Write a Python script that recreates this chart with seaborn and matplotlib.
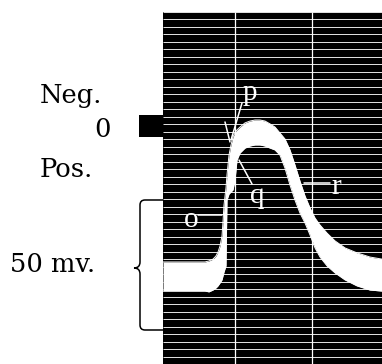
import numpy as np
import matplotlib
matplotlib.use("Agg")
import matplotlib.pyplot as plt
from matplotlib.path import Path
from matplotlib.patches import PathPatch
import seaborn as sns
import pandas as pd

# ---- data (time in ms, potential in mV; positive = downward "Pos.") ----
time_ms = [-0.935, -0.390, -0.338, -0.286, -0.247, -0.221, -0.195, -0.169, -0.156, -0.143,
           -0.117, -0.104, -0.078, -0.052, -0.026, 0.0, 0.026, 0.065, 0.130, 0.195,
           0.260, 0.325, 0.390, 0.455, 0.519, 0.584, 0.649, 0.714, 0.779, 0.844,
           0.909, 0.974, 1.039, 1.104, 1.195, 1.299, 1.429, 1.584, 1.753, 1.909]
trace_top_mv = [52.3, 52.3, 51.9, 51.2, 50.0, 48.5, 46.2, 42.3, 36.9, 30.4,
                23.8, 18.8, 11.2, 7.3, 4.2, 2.7, 1.5, 0.4, -1.2, -1.9,
                -2.3, -2.3, -1.9, -0.8, 0.4, 2.7, 5.0, 9.2, 15.0, 21.2,
                26.9, 31.5, 35.4, 38.1, 41.2, 44.2, 46.9, 48.8, 50.4, 51.2]
trace_bottom_mv = [63.5, 63.5, 63.8, 63.1, 62.3, 61.5, 60.4, 59.2, 57.7, 56.2,
                   53.8, 28.5, 26.2, 25.4, 24.6, 20.8, 13.1, 10.4, 8.5, 7.7,
                   7.3, 7.3, 7.7, 8.5, 9.2, 11.2, 16.2, 22.7, 28.5, 33.5,
                   37.3, 41.9, 46.9, 50.4, 53.8, 56.5, 59.2, 61.5, 63.1, 63.5]
time_marks_ms = [0, 1]
scale_mv = 50
labels_left = ["Neg.", "0", "Pos.", "50 mv."]
point_labels = ["o", "p", "q", "r"]

df = pd.DataFrame({"t": time_ms, "top": trace_top_mv, "bottom": trace_bottom_mv})

sns.set_theme(style="white")
plt.rcParams["font.family"] = ["DejaVu Serif", "DejaVu Sans"]

fig = plt.figure(figsize=(3.82, 3.64), dpi=100)
ax = fig.add_axes([0, 0, 1, 1])
fig.patch.set_facecolor("white")

x0, x1 = time_ms[0], time_ms[-1]
ytop, ybot = -43.85, 91.54

# black recording panel
ax.fill_between([x0, x1], ytop, ybot, color="black", lw=0, zorder=1)

# horizontal scan lines
for v in np.arange(-43.96, 91.6, 2.885):
    ax.hlines(v, x0, x1, color="#e6e6e6", lw=0.7, zorder=2)
# time marks
ax.vlines(time_marks_ms, ytop, ybot, color="white", lw=0.9, zorder=2)

# trace band
ax.fill_between(df["t"], df["top"], df["bottom"], color="white", lw=0, zorder=3)
sns.lineplot(data=df, x="t", y="top", color="white", lw=0.7, ax=ax, zorder=3)
sns.lineplot(data=df, x="t", y="bottom", color="white", lw=0.7, ax=ax, zorder=3)
ax.set_xlim(-3.052, 1.909)
ax.set_ylim(91.54, -48.46)
ax.axis("off")

# zero marker
ax.fill_between([-1.247, x0], -4.23, 4.23, color="black", lw=0, zorder=2)

# left labels
fs = 18.5
ax.text(-2.532, -8.85, labels_left[0], fontsize=fs, ha="left", va="baseline", color="black")
ax.text(-1.610, 4.23, labels_left[1], fontsize=fs, ha="right", va="baseline", color="black")
ax.text(-2.532, 19.6, labels_left[2], fontsize=fs, ha="left", va="baseline", color="black")
ax.text(-2.922, 56.15, labels_left[3], fontsize=fs, ha="left", va="baseline", color="black")

# bracket for 50 mV
def P(px, py):
    return ((px - 235) / 77.0, (py - 126) / 2.6)
verts = [P(163, 200), P(145, 200), P(140, 200), P(140, 205), P(140, 262),
         P(140, 268), P(134, 268), P(140, 268), P(140, 274), P(140, 325),
         P(140, 330), P(145, 330), P(163, 330)]
codes = [Path.MOVETO, Path.LINETO, Path.CURVE3, Path.CURVE3, Path.LINETO,
         Path.CURVE3, Path.CURVE3, Path.CURVE3, Path.CURVE3, Path.LINETO,
         Path.CURVE3, Path.CURVE3, Path.LINETO]
ax.add_patch(PathPatch(Path(verts, codes), fill=False, ec="black", lw=1.1, zorder=4))

# pointer lines and letters
lw_p = 1.1
ax.plot([-0.481, -0.169], [34.4, 34.4], color="white", lw=lw_p, zorder=4)
ax.plot([0.091, -0.052], [-8.85, 5.38], color="white", lw=lw_p, zorder=4)
ax.plot([-0.130, -0.065], [-1.54, 6.15], color="white", lw=lw_p, zorder=4)
ax.plot([0.052, 0.221], [13.08, 22.31], color="white", lw=lw_p, zorder=4)
ax.plot([0.896, 1.234], [21.92, 21.92], color="white", lw=lw_p, zorder=4)

fl = 21
lf = ["Liberation Serif", "DejaVu Serif"]
ax.text(-0.571, 38.85, point_labels[0], fontsize=fl, family=lf, ha="center", va="baseline", color="white", zorder=5)
ax.text(0.195, -10.0, point_labels[1], fontsize=fl, family=lf, ha="center", va="baseline", color="white", zorder=5)
ax.text(0.286, 29.5, point_labels[2], fontsize=fl, family=lf, ha="center", va="baseline", color="white", zorder=5)
ax.text(1.312, 26.15, point_labels[3], fontsize=fl, family=lf, ha="center", va="baseline", color="white", zorder=5)

fig.savefig("out.png", dpi=100, facecolor="white")
